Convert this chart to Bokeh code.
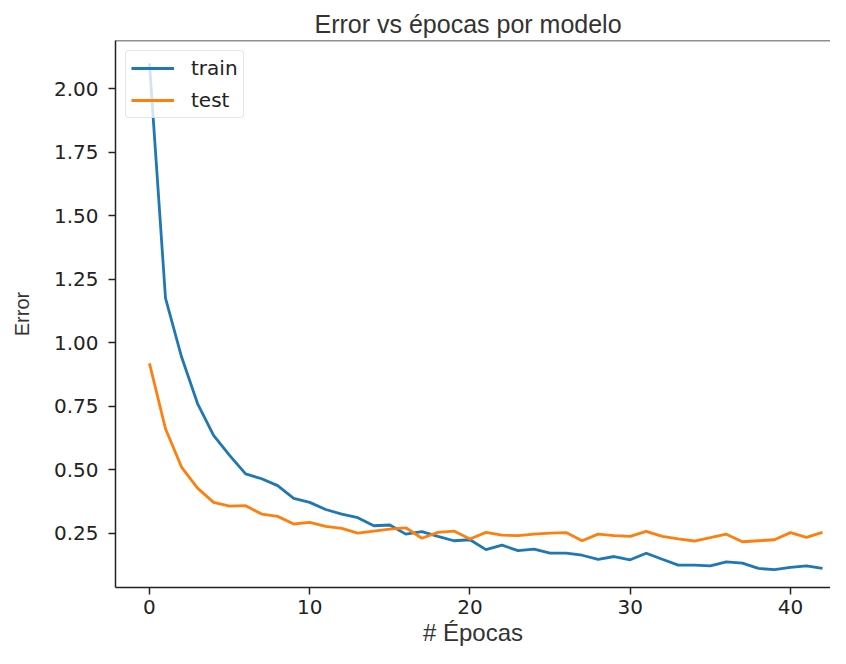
from bokeh.plotting import figure
from bokeh.models import Range1d, FixedTicker, NumeralTickFormatter, Span, Legend, LegendItem
from bokeh.embed import file_html
from bokeh.resources import INLINE

epochs = list(range(43))
train = [2.10, 1.176, 0.945, 0.761, 0.636, 0.557, 0.484, 0.465, 0.438, 0.388,
         0.372, 0.344, 0.326, 0.312, 0.280, 0.283, 0.247, 0.257, 0.238, 0.221,
         0.225, 0.186, 0.204, 0.182, 0.188, 0.172, 0.172, 0.164, 0.148, 0.159,
         0.146, 0.172, 0.148, 0.125, 0.125, 0.122, 0.138, 0.133, 0.112, 0.107,
         0.116, 0.122, 0.112]
test = [0.919, 0.662, 0.511, 0.428, 0.372, 0.357, 0.359, 0.326, 0.317, 0.287,
        0.293, 0.278, 0.270, 0.251, 0.259, 0.267, 0.272, 0.231, 0.254, 0.259,
        0.228, 0.254, 0.243, 0.241, 0.247, 0.251, 0.253, 0.221, 0.247, 0.241,
        0.238, 0.258, 0.238, 0.228, 0.220, 0.233, 0.247, 0.217, 0.221, 0.225,
        0.253, 0.234, 0.254]
x_ticks = [0, 10, 20, 30, 40]
y_ticks = [0.25, 0.50, 0.75, 1.00, 1.25, 1.50, 1.75, 2.00]

p = figure(width=830, height=648, output_backend="svg", toolbar_location=None,
           x_range=Range1d(-2.12, 42.5), y_range=Range1d(0.037, 2.19),
           min_border_left=115, min_border_right=0, min_border_top=40,
           min_border_bottom=60)

p.title.text = "Error vs épocas por modelo"
p.title.text_font = "Liberation Sans"
p.title.text_font_size = "25px"
p.title.text_font_style = "normal"
p.title.text_color = "#333333"
p.title.align = "left"
p.title.offset = 199
p.title.standoff = 6

p.xgrid.visible = False
p.ygrid.visible = False
p.outline_line_color = None
p.background_fill_color = "white"
p.border_fill_color = "white"

top = Span(location=2.19, dimension="width", line_color="#222222", line_width=1.5)
p.add_layout(top)

for ax in (p.xaxis[0], p.yaxis[0]):
    ax.axis_line_color = "#222222"
    ax.axis_line_width = 1.5
    ax.major_tick_line_color = "#222222"
    ax.major_tick_line_width = 1.5
    ax.major_tick_out = 7
    ax.major_tick_in = 0
    ax.minor_tick_line_color = None
    ax.major_label_text_font = "DejaVu Sans"
    ax.major_label_text_font_size = "20px"
    ax.major_label_text_color = "#222222"
    ax.axis_label_text_font = "Liberation Sans"
    ax.axis_label_text_font_style = "normal"
    ax.axis_label_text_color = "#333333"

p.xaxis.ticker = FixedTicker(ticks=x_ticks)
p.yaxis.ticker = FixedTicker(ticks=y_ticks)
p.yaxis.formatter = NumeralTickFormatter(format="0.00")
p.xaxis.major_label_standoff = 5
p.yaxis.major_label_standoff = 10
p.xaxis.axis_label = "# Épocas"
p.xaxis.axis_label_text_font_size = "24px"
p.xaxis.axis_label_standoff = 2
p.yaxis.axis_label = "Error"
p.yaxis.axis_label_text_font_size = "20px"
p.yaxis.axis_label_standoff = 18

r1 = p.line(epochs, train, line_color="#1f77b4", line_width=2.8)
r2 = p.line(epochs, test, line_color="#ff7f0e", line_width=2.8)

legend = Legend(items=[LegendItem(label="train", renderers=[r1]),
                       LegendItem(label="test", renderers=[r2])],
                location="top_left")
legend.label_text_font = "DejaVu Sans"
legend.label_text_font_size = "20px"
legend.label_text_color = "#222222"
legend.glyph_width = 43
legend.glyph_height = 24
legend.label_height = 24
legend.spacing = 8
legend.padding = 5
legend.margin = 10
legend.label_standoff = 17
legend.border_line_color = "#cccccc"
legend.border_line_width = 1.5
legend.border_radius = 4
legend.background_fill_alpha = 0.8
p.add_layout(legend)

open("out.html", "w").write(file_html(p, INLINE))
